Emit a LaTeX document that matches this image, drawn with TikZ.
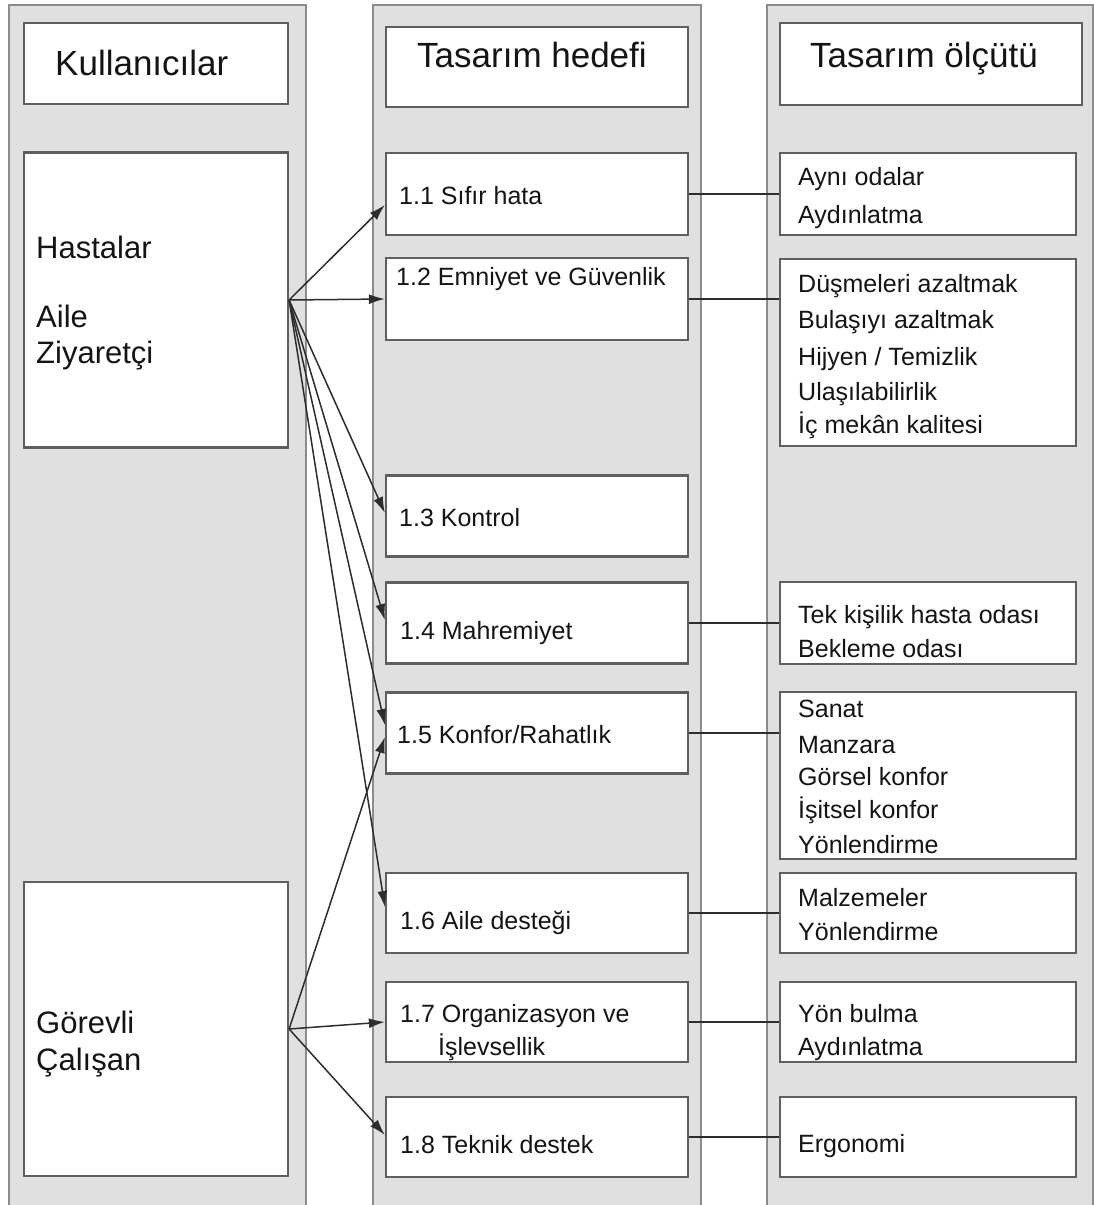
\documentclass[tikz,border=0pt]{standalone}
\usepackage{fontspec}
\setmainfont{Liberation Sans}
\usetikzlibrary{arrows.meta}
\definecolor{panelfill}{RGB}{224,224,224}
\definecolor{panelline}{RGB}{140,140,140}
\definecolor{boxline}{RGB}{95,95,95}
\definecolor{linecol}{RGB}{45,45,45}
\definecolor{txtcol}{RGB}{20,20,20}

\begin{document}
\begin{tikzpicture}[x=1pt,y=-1pt,
  panel/.style={draw=panelline,fill=panelfill,line width=2pt},
  box/.style={draw=boxline,fill=white,line width=2.2pt,inner sep=0pt},
  head/.style={anchor=base west,inner sep=0pt,text=txtcol,font=\fontsize{35}{42}\selectfont},
  who/.style={anchor=base west,inner sep=0pt,text=txtcol,font=\fontsize{31}{37}\selectfont},
  txt/.style={anchor=base west,inner sep=0pt,text=txtcol,font=\fontsize{25}{30}\selectfont},
  link/.style={draw=linecol,line width=1.5pt},
  arr/.style={link,-{Latex[length=16pt,width=10pt]}}]
\clip (0,0) rectangle (1094,1205);
\fill[white] (0,0) rectangle (1094,1205);

\draw[panel] (9,5) rectangle (306,1240);
\draw[panel] (373,5) rectangle (701,1240);
\draw[panel] (767,5) rectangle (1093,1240);

\node[box,minimum width=264pt,minimum height=81pt] (k0) at (156,63.5) {};
\node[box,minimum width=264pt,minimum height=295pt] (hasta) at (156,300) {};
\node[box,minimum width=264pt,minimum height=294pt] (gorev) at (156,1029) {};

\node[box,minimum width=302pt,minimum height=80pt] (g0) at (537,67) {};
\node[box,minimum width=302pt,minimum height=82pt] (g1) at (537,194) {};
\node[box,minimum width=302pt,minimum height=82pt] (g2) at (537,299) {};
\node[box,minimum width=302pt,minimum height=81pt] (g3) at (537,516) {};
\node[box,minimum width=302pt,minimum height=81pt] (g4) at (537,623) {};
\node[box,minimum width=302pt,minimum height=81pt] (g5) at (537,733) {};
\node[box,minimum width=302pt,minimum height=80pt] (g6) at (537,913) {};
\node[box,minimum width=302pt,minimum height=80pt] (g7) at (537,1022) {};
\node[box,minimum width=302pt,minimum height=80pt] (g8) at (537,1137) {};

\node[box,minimum width=302pt,minimum height=82pt] (c0) at (931,64) {};
\node[box,minimum width=296pt,minimum height=82pt] (c1) at (928,194) {};
\node[box,minimum width=296pt,minimum height=187pt] (c2) at (928,352.5) {};
\node[box,minimum width=296pt,minimum height=82pt] (c4) at (928,623) {};
\node[box,minimum width=296pt,minimum height=167pt] (c5) at (928,775.5) {};
\node[box,minimum width=296pt,minimum height=80pt] (c6) at (928,913) {};
\node[box,minimum width=296pt,minimum height=80pt] (c7) at (928,1022) {};
\node[box,minimum width=296pt,minimum height=80pt] (c8) at (928,1137) {};

\node[head] (h1) at (55,75) {Kullanıcılar};
\node[head] (h2) at (417,67) {Tasarım hedefi};
\node[head] (h3) at (810,67) {Tasarım ölçütü};

\node[who] (w1) at (36,258) {Hastalar};
\node[who] (w2) at (36,327) {Aile};
\node[who] (w3) at (36,363) {Ziyaretçi};
\node[who] (w4) at (36,1033) {Görevli};
\node[who] (w5) at (36,1070) {Çalışan};

\node[txt] (t1) at (399,204) {1.1 Sıfır hata};
\node[txt] (t2) at (396,285) {1.2 Emniyet ve Güvenlik};
\node[txt] (t3) at (399,526) {1.3 Kontrol};
\node[txt] (t4) at (400,639) {1.4 Mahremiyet};
\node[txt] (t5) at (397,743) {1.5 Konfor/Rahatlık};
\node[txt] (t6) at (400,929) {1.6 Aile desteği};
\node[txt] (t7) at (400,1022) {1.7 Organizasyon ve};
\node[txt] (t7b) at (438,1055) {İşlevsellik};
\node[txt] (t8) at (400,1153) {1.8 Teknik destek};

\node[txt] (s1) at (798,185) {Aynı odalar};
\node[txt] (s2) at (798,223) {Aydınlatma};
\node[txt] (s3) at (798,292) {Düşmeleri azaltmak};
\node[txt] (s4) at (798,328) {Bulaşıyı azaltmak};
\node[txt] (s5) at (798,365) {Hijyen / Temizlik};
\node[txt] (s6) at (798,400) {Ulaşılabilirlik};
\node[txt] (s7) at (798,433) {İç mekân kalitesi};
\node[txt] (s8) at (798,623) {Tek kişilik hasta odası};
\node[txt] (s9) at (798,657) {Bekleme odası};
\node[txt] (s10) at (798,717) {Sanat};
\node[txt] (s11) at (798,753) {Manzara};
\node[txt] (s12) at (798,785) {Görsel konfor};
\node[txt] (s13) at (798,818) {İşitsel konfor};
\node[txt] (s14) at (798,853) {Yönlendirme};
\node[txt] (s15) at (798,906) {Malzemeler};
\node[txt] (s16) at (798,940) {Yönlendirme};
\node[txt] (s17) at (798,1022) {Yön bulma};
\node[txt] (s18) at (798,1055) {Aydınlatma};
\node[txt] (s19) at (798,1152) {Ergonomi};

\draw[link] (g1.east) -- (g1.east -| c1.west);
\draw[link] (g2.east) -- (g2.east -| c2.west);
\draw[link] (g4.east) -- (g4.east -| c4.west);
\draw[link] (g5.east) -- (g5.east -| c5.west);
\draw[link] (g6.east) -- (g6.east -| c6.west);
\draw[link] (g7.east) -- (g7.east -| c7.west);
\draw[link] (g8.east) -- (g8.east -| c8.west);

\draw[arr] (hasta.east) -- ([yshift=-11pt]g1.west);
\draw[arr] (hasta.east) -- (g2.west);
\draw[arr] (hasta.east) -- ([yshift=3pt]g3.west);
\draw[arr] (hasta.east) -- ([yshift=3pt]g4.west);
\draw[arr] (hasta.east) -- ([yshift=8pt]g5.west);
\draw[arr] (hasta.east) -- ([yshift=6pt]g6.west);
\draw[arr] (gorev.east) -- ([yshift=-4pt]g5.west);
\draw[arr] (gorev.east) -- (g7.west);
\draw[arr] (gorev.east) -- ([yshift=2pt]g8.west);
\end{tikzpicture}
\end{document}
